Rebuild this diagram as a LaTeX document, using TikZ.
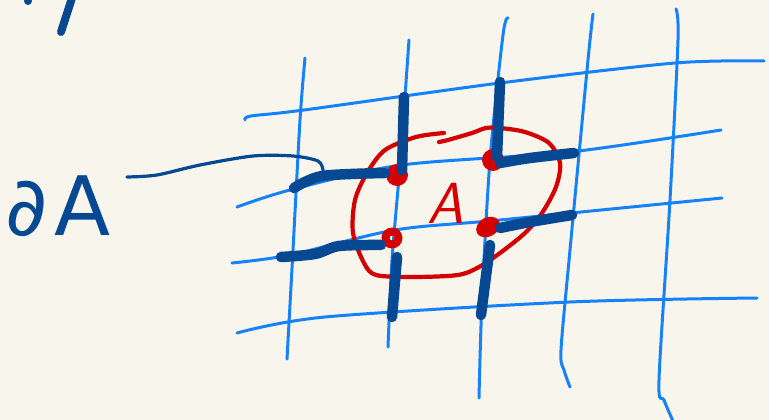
\documentclass[tikz,border=0pt]{standalone}
\usepackage{fontspec}
\newfontfamily\handfont{DejaVu Sans}
\definecolor{paper}{RGB}{248,246,236}
\definecolor{gridblue}{RGB}{22,130,250}
\definecolor{inkblue}{RGB}{6,72,146}
\definecolor{inkred}{RGB}{212,0,0}
\tikzset{
    gridline/.style={line width=3pt,gridblue},
    bondseg/.style={line width=10.5pt,inkblue},
    leader/.style={line width=3.2pt,inkblue},
    regionline/.style={line width=4.2pt,inkred},
    vertexdot/.style={fill=inkred},
    scribble/.style={line width=8pt,inkblue}
}

\begin{document}
\begin{tikzpicture}[x=1pt,y=-1pt,line cap=round,line join=round]
    \fill[paper] (0,0) rectangle (769,420);
    \useasboundingbox (0,0) rectangle (769,420);
    % Stray strokes, top left
    \draw[scribble] (72,-2) -- (61,32);
    \fill[inkblue] (28,1) circle (4);
    % Grid, vertical
    \draw[gridline] plot[smooth] coordinates {(305,58) (300,120) (293,250) (287,359)};
    \draw[gridline] plot[smooth] coordinates {(409,40) (400,165) (392,260) (388,347)};
    \draw[gridline] plot[smooth] coordinates {(508,18) (503,35) (490,160) (482,300) (479,398)};
    \draw[gridline] plot[smooth] coordinates {(593,14) (588,60) (570,250) (561,350) (564,370) (570,387)};
    \draw[gridline] plot[smooth] coordinates {(676,9) (678,40) (670,200) (659,380) (664,400) (673,421)};
    % Grid, horizontal
    \draw[gridline] plot[smooth] coordinates {(245,120) (251,116) (304,110) (500,83) (675,63) (764,61)};
    \draw[gridline] plot[smooth] coordinates {(237,207) (290,190) (402,165) (570,152) (721,130)};
    \draw[gridline] plot[smooth] coordinates {(232,263) (290,255) (395,230) (500,220) (722,198)};
    \draw[gridline] plot[smooth] coordinates {(237,333) (325,317) (570,302) (757,298)};
    % Region A
    \draw[regionline] plot[smooth] coordinates {(444,133) (416,137) (385,150) (367,173) (355,200)
        (353,233) (364,263) (376,275) (413,277) (458,275) (479,267) (500,253) (525,233)
        (542,213) (556,187) (560,163) (549,143) (525,132) (500,128) (486,128) (472,133)
        (448,140) (439,142)};
    \node[inkred,font=\fontsize{58}{58}\selectfont\sffamily\itshape] (regA) at (446,203) {A};
    % Vertices inside A
    \fill[vertexdot] (397,175) circle (11);
    \fill[vertexdot] (493,160) circle (11);
    \fill[vertexdot,rotate around={30:(488,227)}] (488,227) ellipse (12.5 and 9.5);
    \fill[vertexdot,even odd rule] (392,238) circle (10.5) (392,238) circle (2.4);
    % Boundary edges
    \draw[bondseg] (404,97) -- (402,170);
    \draw[bondseg] (500,82) -- (497,157);
    \draw[bondseg] plot[smooth] coordinates {(294,188) (322,176) (385,173)};
    \draw[bondseg] plot[smooth] coordinates {(500,163) (530,158) (574,153)};
    \draw[bondseg] plot[smooth] coordinates {(281,257) (315,254) (339,246) (381,245)};
    \draw[bondseg] plot[smooth] coordinates {(500,228) (530,222) (572,215)};
    \draw[bondseg] (397,257) -- (392,317);
    \draw[bondseg] (490,245) -- (481,315);
    % Label and its leader
    \node[inkblue,font=\fontsize{82}{82}\selectfont\handfont] (dA) at (58,206) {∂\hspace{6pt}A};
    \coordinate (leadstart) at (127,177);
    \coordinate (leadend) at (323,170);
    \draw[leader] plot[smooth] coordinates {(leadstart) (157,175) (200,165) (253,156) (293,156) (318,161) (leadend)};
\end{tikzpicture}
\end{document}
